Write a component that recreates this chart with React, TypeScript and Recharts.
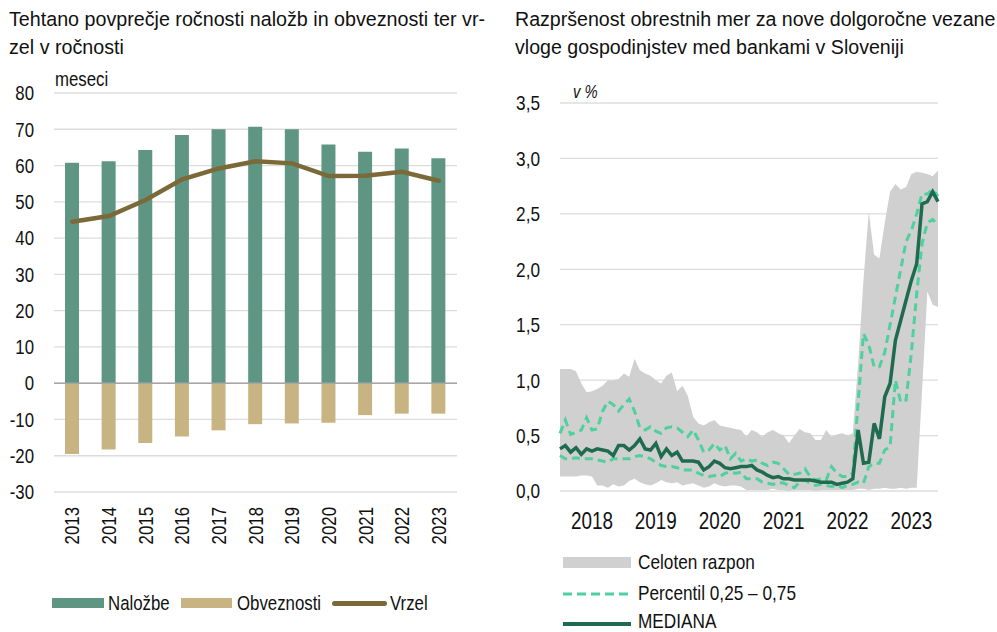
import { ComposedChart, Bar, Line, Area, XAxis, YAxis, CartesianGrid, ReferenceLine } from 'recharts';

const REG = "'Liberation Sans', Arial, sans-serif";
const SX = 0.82; // horizontal squeeze to mimic a narrow face

// left chart: maturities (months)
const years = ['2013', '2014', '2015', '2016', '2017', '2018', '2019', '2020', '2021', '2022', '2023'];
const nalozbe = [60.8, 61.2, 64.3, 68.4, 70.0, 70.7, 70.0, 65.8, 63.8, 64.7, 62.0];
const obveznosti = [-19.5, -18.3, -16.5, -14.7, -13.0, -11.3, -11.1, -10.9, -8.8, -8.4, -8.4];
const vrzel = [44.5, 46.1, 50.5, 56.2, 59.2, 61.2, 60.6, 57.1, 57.2, 58.3, 55.8];
const leftTicks = [-30, -20, -10, 0, 10, 20, 30, 40, 50, 60, 70, 80];

// right chart: monthly, Jan 2018 - Dec 2023
const months = Array.from({ length: 72 }, (_, i) => `${2018 + Math.floor(i / 12)}-${String((i % 12) + 1).padStart(2, '0')}`);
const yearTickIdx = [6, 18, 30, 42, 54, 66];
const rightTicks = [0, 0.5, 1, 1.5, 2, 2.5, 3, 3.5];

const rangeMax = [
  1.10, 1.10, 1.10, 1.08, 0.97, 0.89, 0.90, 0.92, 0.95, 1.00, 1.00, 1.01,
  1.06, 1.03, 1.19, 1.09, 1.06, 1.04, 1.00, 0.97, 1.04, 1.07, 0.90, 0.95,
  0.86, 0.67, 0.61, 0.59, 0.62, 0.64, 0.59, 0.58, 0.57, 0.56, 0.55, 0.49,
  0.55, 0.53, 0.49, 0.53, 0.55, 0.52, 0.50, 0.43, 0.50, 0.56, 0.53, 0.52,
  0.46, 0.46, 0.55, 0.49, 0.51, 0.52, 0.50, 0.52, 1.15, 1.90, 2.52, 2.13,
  2.10, 2.42, 2.70, 2.77, 2.72, 2.74, 2.86, 2.88, 2.87, 2.86, 2.84, 2.89,
];
const rangeMin = [
  0.13, 0.13, 0.13, 0.13, 0.14, 0.14, 0.13, 0.05, 0.05, 0.03, 0.06, 0.04,
  0.05, 0.09, 0.11, 0.08, 0.06, 0.05, 0.07, 0.10, 0.08, 0.07, 0.08, 0.05,
  0.06, 0.07, 0.05, 0.03, 0.04, 0.07, 0.05, 0.04, 0.05, 0.05, 0.04, 0.01,
  0.01, 0.01, 0.01, 0.01, 0.02, 0.01, 0.01, 0.00, 0.01, 0.01, 0.01, 0.01,
  0.00, 0.01, 0.01, 0.01, 0.01, 0.01, 0.01, 0.01, 0.02, 0.02, 0.01, 0.02,
  0.02, 0.03, 0.02, 0.02, 0.03, 0.02, 0.03, 0.03, 0.90, 1.80, 1.68, 1.66,
];
const p75 = [
  0.52, 0.64, 0.51, 0.53, 0.55, 0.66, 0.55, 0.56, 0.72, 0.81, 0.78, 0.72,
  0.78, 0.83, 0.72, 0.57, 0.55, 0.58, 0.54, 0.52, 0.57, 0.58, 0.57, 0.53,
  0.49, 0.55, 0.46, 0.35, 0.37, 0.43, 0.37, 0.41, 0.29, 0.34, 0.27, 0.29,
  0.27, 0.28, 0.25, 0.23, 0.26, 0.25, 0.20, 0.15, 0.15, 0.16, 0.20, 0.13,
  0.10, 0.11, 0.10, 0.22, 0.16, 0.13, 0.13, 0.16, 0.80, 1.42, 1.32, 1.12,
  1.12, 1.25, 1.50, 1.75, 2.00, 2.25, 2.35, 2.50, 2.68, 2.68, 2.72, 2.66,
];
const p25 = [
  0.32, 0.29, 0.29, 0.30, 0.29, 0.29, 0.29, 0.28, 0.27, 0.26, 0.29, 0.29,
  0.29, 0.29, 0.31, 0.32, 0.31, 0.29, 0.26, 0.23, 0.22, 0.22, 0.21, 0.19,
  0.19, 0.19, 0.16, 0.14, 0.13, 0.14, 0.13, 0.16, 0.17, 0.16, 0.17, 0.11,
  0.11, 0.11, 0.08, 0.07, 0.06, 0.08, 0.07, 0.05, 0.03, 0.08, 0.10, 0.07,
  0.05, 0.06, 0.05, 0.04, 0.05, 0.03, 0.05, 0.06, 0.08, 0.07, 0.22, 0.25,
  0.25, 0.37, 0.40, 1.00, 0.80, 0.82, 1.25, 1.78, 2.23, 2.42, 2.45, 2.40,
];
const mediana = [
  0.38, 0.41, 0.35, 0.39, 0.33, 0.38, 0.36, 0.38, 0.37, 0.36, 0.32, 0.41,
  0.41, 0.37, 0.41, 0.47, 0.38, 0.37, 0.43, 0.31, 0.38, 0.32, 0.35, 0.27,
  0.27, 0.27, 0.26, 0.19, 0.22, 0.27, 0.25, 0.21, 0.20, 0.21, 0.22, 0.22,
  0.23, 0.19, 0.17, 0.14, 0.12, 0.13, 0.11, 0.11, 0.10, 0.10, 0.10, 0.10,
  0.09, 0.08, 0.08, 0.08, 0.06, 0.07, 0.08, 0.11, 0.55, 0.25, 0.26, 0.61,
  0.47, 0.85, 0.97, 1.36, 1.54, 1.72, 1.90, 2.05, 2.59, 2.61, 2.70, 2.61,
];

const leftData = years.map((year, i) => ({ year, nalozbe: nalozbe[i], obveznosti: obveznosti[i], vrzel: vrzel[i] }));
const rightData = months.map((m, i) => ({ idx: i, month: m, range: [rangeMin[i], rangeMax[i]], p25: p25[i], p75: p75[i], mediana: mediana[i] }));

const GREEN = '#5f9683';
const TAN = '#c8b482';
const BROWN = '#7b6a37';
const LIGHT = '#4fd09f';
const DARK = '#1f6b4f';
const INK = '#111';

const fmtComma = (v: number) => v.toFixed(1).replace('.', ',');

const YearTick = ({ x, y, payload }: any) => (
  <text transform={`translate(${x},${y + 15}) rotate(-90) scale(${SX},1)`} textAnchor="end" dy="0.35em"
    fontFamily={REG} fontSize={20.5} fill={INK}>{payload.value}</text>
);

const SideTick = ({ x, y, payload, fmt, fs }: any) => (
  <text transform={`translate(${x},${y}) scale(${SX},1)`} textAnchor="end" dy="0.355em"
    fontFamily={REG} fontSize={fs} fill={INK}>{fmt ? fmt(payload.value) : payload.value}</text>
);

const BottomTick = ({ x, y, payload }: any) => (
  <text transform={`translate(${x},${y}) scale(${SX},1)`} textAnchor="middle" dy="0.71em"
    fontFamily={REG} fontSize={23} fill={INK}>{months[payload.value].slice(0, 4)}</text>
);

const Narrow = ({ left, top, size, italic, children }: any) => (
  <div style={{ position: 'absolute', left, top, fontFamily: REG, fontSize: size, fontStyle: italic ? 'italic' : 'normal', color: INK,
    lineHeight: '22px', whiteSpace: 'nowrap', transform: `scaleX(${SX})`, transformOrigin: 'left center' }}>{children}</div>
);

export default function App() {
  return (
    <div style={{ position: 'absolute', left: 0, top: 0, width: 997, height: 632, background: '#fff', overflow: 'hidden' }}>
      <div style={{ position: 'absolute', left: 9, top: 5, fontFamily: REG, fontSize: 19.7, lineHeight: '28px', color: INK, whiteSpace: 'nowrap' }}>
        Tehtano povprečje ročnosti naložb in obveznosti ter vr-<br />zel v ročnosti
      </div>
      <div style={{ position: 'absolute', left: 515, top: 5, fontFamily: REG, fontSize: 19.6, lineHeight: '28px', color: INK, whiteSpace: 'nowrap' }}>
        Razpršenost obrestnih mer za nove dolgoročne vezane<br />vloge gospodinjstev med bankami v Sloveniji
      </div>
      <Narrow left={55} top={68} size={20.5}>meseci</Narrow>
      <Narrow left={573} top={81} size={18} italic>v %</Narrow>

      <div style={{ position: 'absolute', left: 0, top: 0 }}>
        <ComposedChart width={480} height={632} data={leftData} stackOffset="sign" margin={{ top: 93, right: 23, bottom: 0, left: 0 }}>
          <CartesianGrid vertical={false} stroke="#dcdcdc" strokeWidth={1.3} />
          <XAxis dataKey="year" height={140} axisLine={false} tickLine={false} tickSize={0} tickMargin={0} interval={0} tick={<YearTick />} />
          <YAxis width={54} domain={[-30, 80]} ticks={leftTicks} interval={0} axisLine={false} tickLine={false} tickSize={0} tickMargin={20}
            tick={<SideTick fs={20.5} />} />
          <ReferenceLine y={0} stroke="#a6a6a6" strokeWidth={1.5} />
          <Bar dataKey="nalozbe" stackId="s" fill={GREEN} barSize={14} isAnimationActive={false} />
          <Bar dataKey="obveznosti" stackId="s" fill={TAN} barSize={14} isAnimationActive={false} />
          <Line dataKey="vrzel" stroke={BROWN} strokeWidth={4.5} dot={false} strokeLinecap="round" isAnimationActive={false} />
        </ComposedChart>
      </div>

      <div style={{ position: 'absolute', left: 500, top: 0 }}>
        <ComposedChart width={497} height={540} data={rightData} margin={{ top: 103, right: 59, bottom: 0, left: 0 }}>
          <CartesianGrid vertical={false} stroke="#dcdcdc" strokeWidth={1.3} />
          <XAxis dataKey="idx" type="number" domain={[0, 71]} ticks={yearTickIdx} interval={0} height={49} axisLine={false} tickLine={false}
            tickSize={0} tickMargin={22} tick={<BottomTick />} />
          <YAxis width={60} domain={[0, 3.5]} ticks={rightTicks} interval={0} axisLine={false} tickLine={false} tickSize={0} tickMargin={20}
            tick={<SideTick fs={21} fmt={fmtComma} />} />
          <Area dataKey="range" fill="#d0d0d0" fillOpacity={1} stroke="none" isAnimationActive={false} />
          <Line dataKey="p75" stroke={LIGHT} strokeWidth={3} strokeDasharray="8 5" dot={false} isAnimationActive={false} />
          <Line dataKey="p25" stroke={LIGHT} strokeWidth={3} strokeDasharray="8 5" dot={false} isAnimationActive={false} />
          <Line dataKey="mediana" stroke={DARK} strokeWidth={3.5} dot={false} isAnimationActive={false} />
        </ComposedChart>
      </div>

      {/* left legend */}
      <div style={{ position: 'absolute', left: 52, top: 598, width: 52, height: 10, background: GREEN }} />
      <Narrow left={108} top={592} size={20.5}>Naložbe</Narrow>
      <div style={{ position: 'absolute', left: 181, top: 598, width: 51, height: 10, background: TAN }} />
      <Narrow left={237} top={592} size={20.5}>Obveznosti</Narrow>
      <div style={{ position: 'absolute', left: 332, top: 601, width: 55, height: 4.5, borderRadius: 3, background: BROWN }} />
      <Narrow left={390} top={592} size={20.5}>Vrzel</Narrow>

      {/* right legend */}
      <div style={{ position: 'absolute', left: 563, top: 557, width: 68, height: 11, background: '#d0d0d0' }} />
      <Narrow left={638} top={551} size={21}>Celoten razpon</Narrow>
      <svg style={{ position: 'absolute', left: 563, top: 590 }} width={70} height={8}>
        <line x1={0} y1={4} x2={68} y2={4} stroke={LIGHT} strokeWidth={3} strokeDasharray="9 5" />
      </svg>
      <Narrow left={638} top={582} size={21}>Percentil 0,25 – 0,75</Narrow>
      <div style={{ position: 'absolute', left: 563, top: 622, width: 68, height: 3.5, background: DARK }} />
      <Narrow left={638} top={610} size={21}>MEDIANA</Narrow>
    </div>
  );
}
